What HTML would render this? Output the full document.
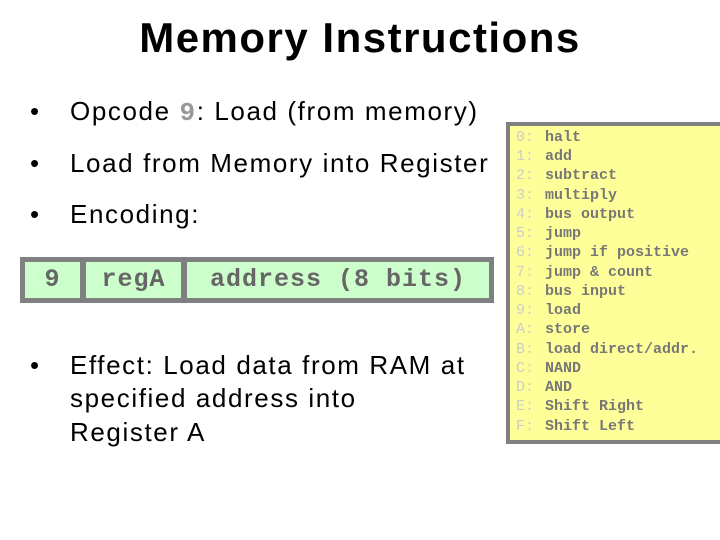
<!DOCTYPE html>
<html><head><style>
body{margin:0;width:720px;height:540px;background:#fff;position:relative;overflow:hidden;font-family:"Liberation Sans",sans-serif;color:#000}
.a{position:absolute;white-space:nowrap}
.t{left:0;width:720px;text-align:center;top:14px;font-size:42px;font-weight:bold;letter-spacing:1.5px}
.b{font-size:26px;left:30px;letter-spacing:1.6px}
.b span.d{position:absolute;left:0}
.b span.x{position:absolute;left:40px}
.mono{font-family:"Liberation Mono",monospace}
.cell{position:absolute;background:#ccffcc;top:262px;height:36px;font-family:"Liberation Mono",monospace;font-weight:bold;color:#666;font-size:25px;letter-spacing:1px;line-height:36px;text-align:center}
.list{position:absolute;left:506px;top:122px;width:210px;height:314px;background:#ffff99;border:4px solid #808080;box-sizing:content-box}
.row{position:absolute;left:6px;font-family:"Liberation Mono",monospace;font-size:15px;font-weight:bold;color:#777;white-space:nowrap}
.row i{font-style:normal;font-weight:normal;color:#ccc;display:inline-block;width:29px}
</style></head><body>
<div class="a t">Memory Instructions</div>
<div class="a b" style="top:96px"><span class="d">•</span><span class="x">Opcode <span class="mono" style="color:#999;font-weight:bold">9</span>: Load (from memory)</span></div>
<div class="a b" style="top:148px"><span class="d">•</span><span class="x">Load from Memory into Register</span></div>
<div class="a b" style="top:199px"><span class="d">•</span><span class="x">Encoding:</span></div>
<div class="a" style="left:20px;top:257px;width:474px;height:46px;background:#808080"></div>
<div class="cell" style="left:25px;width:55px">9</div>
<div class="cell" style="left:86px;width:95px">regA</div>
<div class="cell" style="left:187px;width:302px">address (8 bits)</div>
<div class="a b" style="top:350px"><span class="d">•</span><span class="x">Effect: Load data from RAM at</span></div>
<div class="a b" style="top:383px;left:70px">specified address into</div>
<div class="a b" style="top:417px;left:70px">Register A</div>
<div class="list">
<div class="row" style="top:3px"><i>0:</i>halt</div>
<div class="row" style="top:22px"><i>1:</i>add</div>
<div class="row" style="top:41px"><i>2:</i>subtract</div>
<div class="row" style="top:61px"><i>3:</i>multiply</div>
<div class="row" style="top:80px"><i>4:</i>bus output</div>
<div class="row" style="top:99px"><i>5:</i>jump</div>
<div class="row" style="top:118px"><i>6:</i>jump if positive</div>
<div class="row" style="top:138px"><i>7:</i>jump &amp; count</div>
<div class="row" style="top:157px"><i>8:</i>bus input</div>
<div class="row" style="top:176px"><i>9:</i>load</div>
<div class="row" style="top:195px"><i>A:</i>store</div>
<div class="row" style="top:215px"><i>B:</i>load direct/addr.</div>
<div class="row" style="top:234px"><i>C:</i>NAND</div>
<div class="row" style="top:253px"><i>D:</i>AND</div>
<div class="row" style="top:272px"><i>E:</i>Shift Right</div>
<div class="row" style="top:292px"><i>F:</i>Shift Left</div>
</div>
</body></html>
